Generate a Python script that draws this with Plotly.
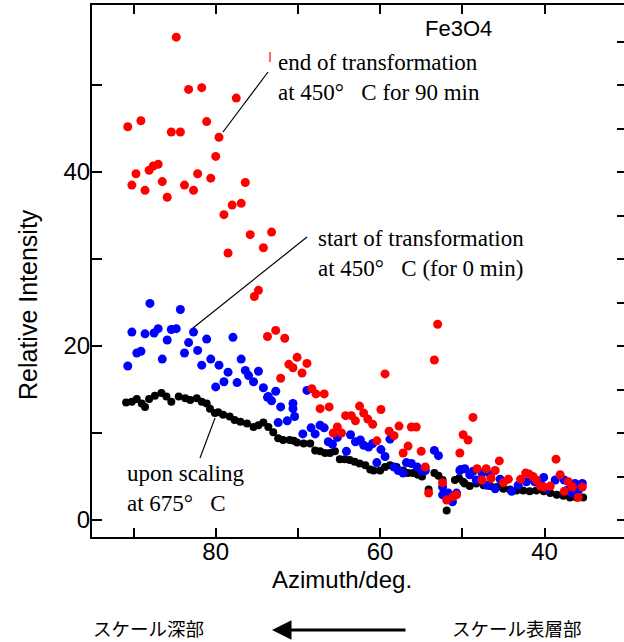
import plotly.graph_objects as go

# ---------------- data ----------------
red_az = [84.8, 83.3, 81.7, 77.5, 90.7, 89.1, 85.4, 84.3, 81.1, 79.6, 80.0, 89.7, 88.1, 87.6,
          87.0, 90.2, 88.6, 86.5, 85.9, 83.8, 82.7, 82.2, 80.6, 76.4, 79.0, 78.0, 76.9, 75.8,
          73.2, 78.5, 74.2, 74.8, 75.3, 73.7, 72.7, 71.6, 70.1, 71.1, 70.6, 72.1, 68.9, 69.5,
          68.3, 67.8, 66.8, 67.3, 66.2, 64.2, 63.5, 62.5, 62.0, 61.5, 63.0, 60.9, 59.4, 59.9,
          65.2, 65.7, 64.7, 60.4, 57.7, 58.9, 58.3, 56.2, 55.6, 56.6, 57.2, 55.0, 53.0, 53.4,
          54.5, 54.1, 52.4, 51.9, 51.1, 50.7, 50.3, 49.9, 49.3, 48.7, 48.2, 47.1, 47.6, 46.0,
          46.5, 45.5, 45.0, 44.4, 42.9, 42.3, 41.9, 41.4, 41.0, 40.5, 40.1, 39.3, 38.6, 38.1,
          37.1, 36.6, 35.9, 35.4, 37.6]
red_val = [55.5, 49.5, 49.7, 48.5, 45.2, 45.9, 44.6, 44.6, 45.8, 44.0, 41.8, 39.8, 40.2, 40.7,
           40.9, 38.5, 37.9, 38.9, 37.1, 38.5, 37.9, 39.8, 39.3, 38.8, 35.1, 36.2, 36.4, 32.8,
           33.1, 30.7, 31.3, 26.4, 25.7, 21.1, 21.8, 20.9, 18.7, 17.9, 17.5, 16.3, 18.0, 16.9,
           15.1, 14.5, 14.5, 12.8, 13.0, 12.0, 12.0, 13.1, 12.3, 11.6, 11.4, 11.0, 16.8, 12.7,
           10.7, 10.0, 10.0, 9.1, 10.8, 10.2, 9.7, 10.7, 10.7, 8.5, 7.7, 7.9, 22.5, 18.4,
           6.1, 3.1, 4.3, 2.3, 2.7, 2.9, 7.7, 9.8, 9.2, 11.8, 5.9, 5.9, 4.6, 5.7,
           4.8, 6.8, 4.3, 4.7, 4.7, 5.4, 5.3, 5.0, 4.6, 3.9, 3.8, 3.9, 7.0, 5.2,
           4.4, 3.8, 2.6, 3.8, 3.3]

blue_az = [88.0, 84.3, 90.2, 88.6, 87.5, 87.0, 85.4, 84.8, 82.7, 85.9, 83.3, 81.1, 77.9, 89.6,
           89.1, 86.5, 83.8, 82.2, 90.7, 81.7, 80.6, 79.6, 76.9, 78.5, 76.4, 76.0, 74.8, 75.4,
           79.0, 80.0, 77.4, 74.2, 72.7, 73.6, 73.7, 73.2, 72.1, 70.6, 71.3, 72.4, 68.9, 70.6,
           70.4, 69.4, 68.4, 67.9, 67.3, 66.8, 66.3, 65.8, 65.2, 64.1, 63.6, 63.0, 62.4, 62.0,
           61.4, 60.9, 60.4, 59.9, 59.4, 58.8, 58.3, 57.8, 57.2, 56.8, 56.2, 55.5, 54.9, 54.5,
           53.4, 52.9, 52.4, 51.7, 51.2, 50.7, 50.3, 49.7, 52.4, 50.2, 49.1, 48.7, 48.3, 47.6,
           47.0, 46.6, 46.0, 45.4, 44.0, 43.2, 42.2, 41.2, 40.5, 40.1, 39.7, 38.7, 37.6, 37.3,
           36.7, 36.3, 35.4, 35.9]
blue_val = [24.9, 24.2, 21.6, 21.4, 21.5, 22.0, 21.9, 22.0, 21.6, 20.7, 20.4, 20.8, 21.0, 19.2,
            19.4, 18.5, 19.2, 19.5, 17.7, 17.8, 18.5, 17.8, 18.5, 17.0, 17.2, 16.6, 17.1, 15.9,
            15.9, 15.3, 15.8, 15.2, 14.8, 14.2, 14.1, 13.7, 13.0, 13.4, 11.4, 11.2, 14.9, 12.8,
            11.9, 9.9, 10.6, 9.9, 10.9, 10.6, 9.0, 8.7, 9.5, 7.9, 9.8, 9.0, 9.2, 8.6,
            8.4, 8.8, 6.6, 8.1, 7.3, 9.3, 6.1, 5.7, 5.4, 6.6, 6.5, 6.1, 5.6, 5.7,
            8.0, 7.4, 3.8, 3.1, 2.1, 3.1, 5.7, 5.9, 2.9, 5.8, 5.2, 5.6, 4.6, 5.4,
            4.0, 5.2, 3.6, 4.7, 3.3, 4.0, 4.4, 4.4, 4.4, 4.9, 3.6, 4.6, 4.6, 3.4,
            3.1, 4.2, 4.2, 3.4]

black_az = [90.9, 90.2, 89.6, 89.0, 88.6, 88.1, 87.4, 86.6, 86.0, 85.4, 84.5, 83.7, 83.1, 82.3,
            81.7, 81.1, 80.7, 80.1, 79.7, 79.1, 78.3, 77.7, 77.0, 76.2, 75.4, 74.8, 74.2, 73.6,
            73.0, 72.4, 71.8, 71.0, 70.5, 70.1, 69.3, 68.5, 67.9, 67.3, 66.7, 66.1, 65.5, 64.9,
            64.3, 63.7, 63.1, 62.5, 61.8, 61.2, 60.8, 60.0, 59.4, 58.8, 58.0, 57.2, 56.6, 56.0,
            55.4, 54.9, 54.1, 53.4, 52.9, 52.4, 52.2, 51.9, 51.4, 50.9, 50.4, 49.9, 49.7, 49.1,
            48.3, 47.4, 46.6, 45.8, 45.0, 44.2, 43.4, 42.6, 41.8, 41.0, 40.1, 39.3, 38.5, 37.7,
            36.9, 36.1, 35.3]
black_val = [13.5, 13.6, 13.9, 13.4, 13.0, 13.9, 14.3, 14.6, 14.2, 13.6, 14.2, 14.0, 13.8, 14.0,
             13.6, 13.4, 12.8, 12.3, 12.4, 12.1, 11.9, 11.5, 11.3, 11.1, 10.7, 10.9, 11.2, 10.7,
             10.1, 9.4, 9.2, 9.2, 9.1, 8.9, 8.8, 8.8, 8.0, 7.9, 7.7, 7.7, 7.9, 7.0,
             7.0, 6.9, 6.7, 6.5, 6.3, 5.8, 5.7, 5.7, 6.1, 6.3, 6.1, 5.7, 5.4, 5.4,
             5.2, 5.0, 3.5, 5.4, 5.1, 4.6, 3.1, 1.1, 2.7, 4.6, 4.8, 4.4, 4.2, 3.9,
             4.2, 4.0, 3.9, 3.8, 3.6, 3.5, 3.4, 3.4, 3.3, 3.4, 3.3, 3.1, 2.9, 2.8,
             2.6, 2.6, 2.6]

x_tickvals = [90, 80, 70, 60, 50, 40]
x_ticktext = ["", "80", "", "60", "", "40"]
y_tickvals = [0, 10, 20, 30, 40, 50]
y_ticktext = ["0", "", "20", "", "40", ""]
y2_tickvals = [0, 5, 10, 15, 20, 25, 30, 35, 40, 45, 50, 55]

# ---------------- figure ----------------
W, H = 624, 642
ML, MR, MT, MB = 92, 0, 5, 105
PW, PH = W - ML - MR, H - MT - MB


def px(xp):
    return (xp - ML) / PW


def py(yp):
    return (H - MB - yp) / PH


SANS = "Liberation Sans, Arial, Helvetica, sans-serif"
SERIF = "Liberation Serif, Times New Roman, serif"
CJK = "Noto Sans CJK JP, sans-serif"

fig = go.Figure()
fig.add_trace(go.Scatter(x=black_az, y=black_val, mode="markers",
                         marker=dict(color="black", size=8, line=dict(width=0)),
                         showlegend=False))
fig.add_trace(go.Scatter(x=blue_az, y=blue_val, mode="markers",
                         marker=dict(color="#0000ff", size=9, line=dict(width=0)),
                         showlegend=False))
fig.add_trace(go.Scatter(x=red_az, y=red_val, mode="markers",
                         marker=dict(color="#ff0000", size=9, line=dict(width=0)),
                         showlegend=False))
fig.add_trace(go.Scatter(x=[None], y=[None], yaxis="y2", showlegend=False, hoverinfo="skip"))

fig.update_layout(
    width=W, height=H,
    margin=dict(l=ML, r=MR, t=MT, b=MB),
    paper_bgcolor="white", plot_bgcolor="white",
    xaxis=dict(range=[95.05, 30.33], tickvals=x_tickvals, ticktext=x_ticktext,
               ticks="inside", ticklen=9, tickwidth=2, tickcolor="black",
               showline=True, linewidth=2, linecolor="black", mirror="ticks",
               showgrid=False, zeroline=False, ticklabelstandoff=-8,
               tickfont=dict(family=SANS, size=24, color="black")),
    yaxis=dict(range=[-1.95, 59.2], tickvals=y_tickvals, ticktext=y_ticktext,
               ticks="inside", ticklen=10, tickwidth=2, tickcolor="black",
               showline=True, linewidth=2, linecolor="black",
               showgrid=False, zeroline=False, ticklabelstandoff=-5,
               tickfont=dict(family=SANS, size=24, color="black")),
    yaxis2=dict(range=[-1.95, 59.2], overlaying="y", side="right", tickvals=y2_tickvals,
                ticks="inside", ticklen=7, tickwidth=2, tickcolor="black",
                showticklabels=False, showline=False, showgrid=False, zeroline=False),
)

ann = []
ann.append(dict(x=px(458), y=py(28), text="Fe3O4", font=dict(family=SANS, size=22, color="black")))
ann.append(dict(x=px(342), y=py(579), text="Azimuth/deg.", font=dict(family=SANS, size=24, color="black")))
ann.append(dict(x=px(28), y=py(305), text="Relative Intensity", textangle=-90,
                font=dict(family=SANS, size=25, color="black")))
ann.append(dict(x=px(276), y=py(77), xanchor="left", align="left",
                text="end of transformation<br>at 450°\u00a0\u00a0 C for 90 min",
                font=dict(family=SERIF, size=23, color="black")))
ann.append(dict(x=px(316), y=py(253), xanchor="left", align="left",
                text="start of transformation<br>at 450°\u00a0\u00a0 C (for 0 min)",
                font=dict(family=SERIF, size=23, color="black")))
ann.append(dict(x=px(125), y=py(488), xanchor="left", align="left",
                text="upon scaling<br>at 675°\u00a0\u00a0 C",
                font=dict(family=SERIF, size=23, color="black")))
ann.append(dict(x=px(148), y=py(628), text="スケール深部", font=dict(family=CJK, size=18.5, color="black")))
ann.append(dict(x=px(517), y=py(628), text="スケール表層部", font=dict(family=CJK, size=18.5, color="black")))
for a in ann:
    a.update(xref="paper", yref="paper", showarrow=False)
    a.setdefault("xanchor", "center")
    a.setdefault("yanchor", "middle")
# arrow
ann.append(dict(xref="paper", yref="paper", x=px(272), y=py(630), ax=135, ay=0, text="",
                showarrow=True, arrowhead=2, arrowsize=1.3, arrowwidth=3, arrowcolor="black"))
fig.update_layout(annotations=ann)

lines = [((268, 72), (223, 132), "black"), ((307, 237), (193, 328), "black"),
         ((215, 418), (200, 458), "black"), ((270, 52), (270, 62), "#ff0000")]
for (x0, y0), (x1, y1), c in lines:
    fig.add_shape(type="line", xref="paper", yref="paper", x0=px(x0), y0=py(y0),
                  x1=px(x1), y1=py(y1), line=dict(color=c, width=1.2))

fig.write_html(
    "out.html",
    config={"displayModeBar": False},
    post_script="document.body.style.margin='0px';document.body.style.padding='0px';"
                "document.documentElement.style.overflow='hidden';document.body.style.overflow='hidden';",
)
